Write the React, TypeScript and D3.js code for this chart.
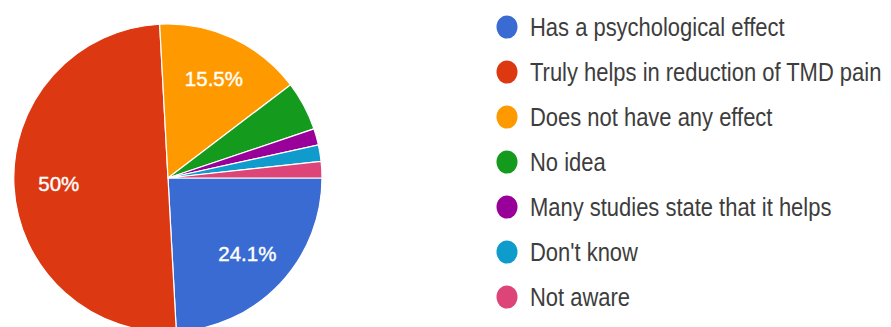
import React from "react";
import * as d3 from "d3";

const categories = [
  "Has a psychological effect",
  "Truly helps in reduction of TMD pain",
  "Does not have any effect",
  "No idea",
  "Many studies state that it helps",
  "Don't know",
  "Not aware",
];
const counts = [14, 29, 9, 3, 1, 1, 1];
const sliceLabels = ["24.1%", "50%", "15.5%", "", "", "", ""];
const colors = ["#3a6bd2", "#dc3912", "#ff9900", "#149a1c", "#990099", "#0f9bcb", "#dd4477"];

const W = 891;
const H = 327;

export default function App() {
  const cx = 168;
  const cy = 178;
  const r = 154;
  const pie = d3
    .pie<number>()
    .sort(null)
    .startAngle(Math.PI / 2)
    .endAngle(Math.PI / 2 + 2 * Math.PI);
  const arcs = pie(counts);
  const arc = d3.arc<d3.PieArcDatum<number>>().innerRadius(0).outerRadius(r);
  const labelArc = d3.arc<d3.PieArcDatum<number>>().innerRadius(r * 0.71).outerRadius(r * 0.71);

  const legendY = d3.scalePoint<number>().domain(d3.range(categories.length)).range([27, 297]);

  return (
    <svg
      width={W}
      height={H}
      style={{ position: "absolute", left: 0, top: 0, display: "block", background: "#fff" }}
    >
      <g transform={`translate(${cx},${cy})`}>
        {arcs.map((a, i) => (
          <path key={i} d={arc(a) || ""} fill={colors[i]} stroke="#fff" strokeWidth={1.2} />
        ))}
        {arcs.map((a, i) => {
          if (!sliceLabels[i]) return null;
          const [x, y] = labelArc.centroid(a);
          return (
            <text
              key={"l" + i}
              x={x}
              y={y}
              dy="0.36em"
              textAnchor="middle"
              fill="#fff"
              stroke="#fff"
              strokeWidth={0.4}
              fontFamily="'Liberation Sans', Arial, sans-serif"
              fontSize={20.5}
            >
              {sliceLabels[i]}
            </text>
          );
        })}
      </g>
      <g>
        {categories.map((c, i) => {
          const y = legendY(i) as number;
          return (
            <g key={c}>
              <ellipse cx={507} cy={y} rx={10.5} ry={11.5} fill={colors[i]} />
              <text
                transform={`translate(530,${y + 9.3}) scale(0.845,1)`}
                fill="#3d3d3d"
                fontFamily="'Liberation Sans', Arial, sans-serif"
                fontSize={26}
              >
                {c}
              </text>
            </g>
          );
        })}
      </g>
    </svg>
  );
}
